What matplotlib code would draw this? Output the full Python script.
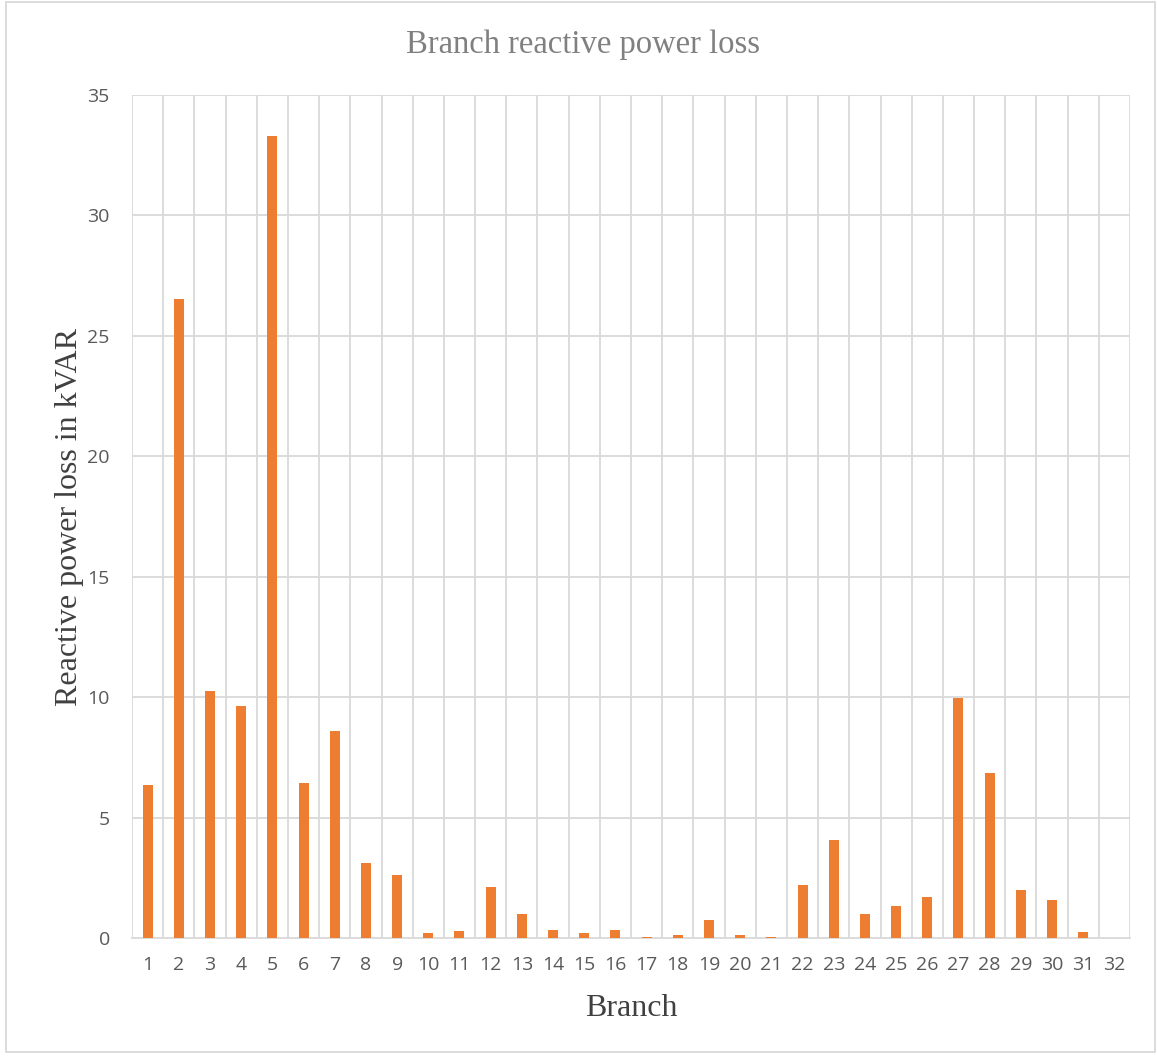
import numpy as np
import matplotlib.pyplot as plt
from matplotlib.patches import Rectangle

branches = list(range(1, 33))
q_loss = [6.35, 26.55, 10.25, 9.62, 33.3, 6.43, 8.59, 3.1, 2.6, 0.19,
          0.29, 2.13, 0.98, 0.32, 0.21, 0.35, 0.03, 0.14, 0.75, 0.12,
          0.03, 2.18, 4.07, 1.0, 1.33, 1.7, 9.97, 6.84, 1.98, 1.58,
          0.25, 0.0]

fig = plt.figure(figsize=(11.57, 10.57), dpi=100)
ax = fig.add_axes([132/1157, 1 - 938/1057, (1130-132)/1157, (938-95)/1057])

x = np.arange(len(branches))
ax.bar(x, q_loss, width=0.32, color='#ED7D31', zorder=3)

ax.set_xlim(-0.5, len(branches) - 0.5)
ax.set_ylim(0, 35)
ax.set_yticks(np.arange(0, 36, 5))
ax.set_xticks(x)
ax.set_xticklabels([str(b) for b in branches])

# grid lines: horizontal at ticks, vertical between categories
for yv in np.arange(5, 36, 5):
    ax.axhline(yv, color='#d9d9d9', lw=1.3, zorder=1)
for xv in np.arange(-0.5, len(branches), 1.0):
    ax.axvline(xv, color='#d9d9d9', lw=1.3, zorder=1)

for s in ['top', 'right', 'left']:
    ax.spines[s].set_visible(False)
ax.spines['bottom'].set_color('#d9d9d9')
ax.spines['bottom'].set_linewidth(1.3)
ax.tick_params(length=0, labelsize=14, labelcolor='#595959')
for lab in ax.get_xticklabels() + ax.get_yticklabels():
    lab.set_family('Open Sans')
ax.tick_params(axis='x', pad=13)
ax.tick_params(axis='y', pad=16)

ax.set_xlabel('Branch', family='Liberation Serif', fontsize=23, color='#404040', labelpad=14)
ax.set_ylabel('Reactive power loss in kVAR', family='Liberation Serif', fontsize=23,
              color='#404040', labelpad=2)
fig.text(583/1157, 1 - 45/1057, 'Branch reactive power loss', family='Liberation Serif',
         fontsize=23.5, color='#808080', ha='center', va='center')

fig.patches.append(Rectangle((6/1157, 5/1057), 1149/1157, 1050/1057, transform=fig.transFigure,
                             fill=False, edgecolor='#d9d9d9', lw=1.3))

fig.savefig('out.png', dpi=100)
